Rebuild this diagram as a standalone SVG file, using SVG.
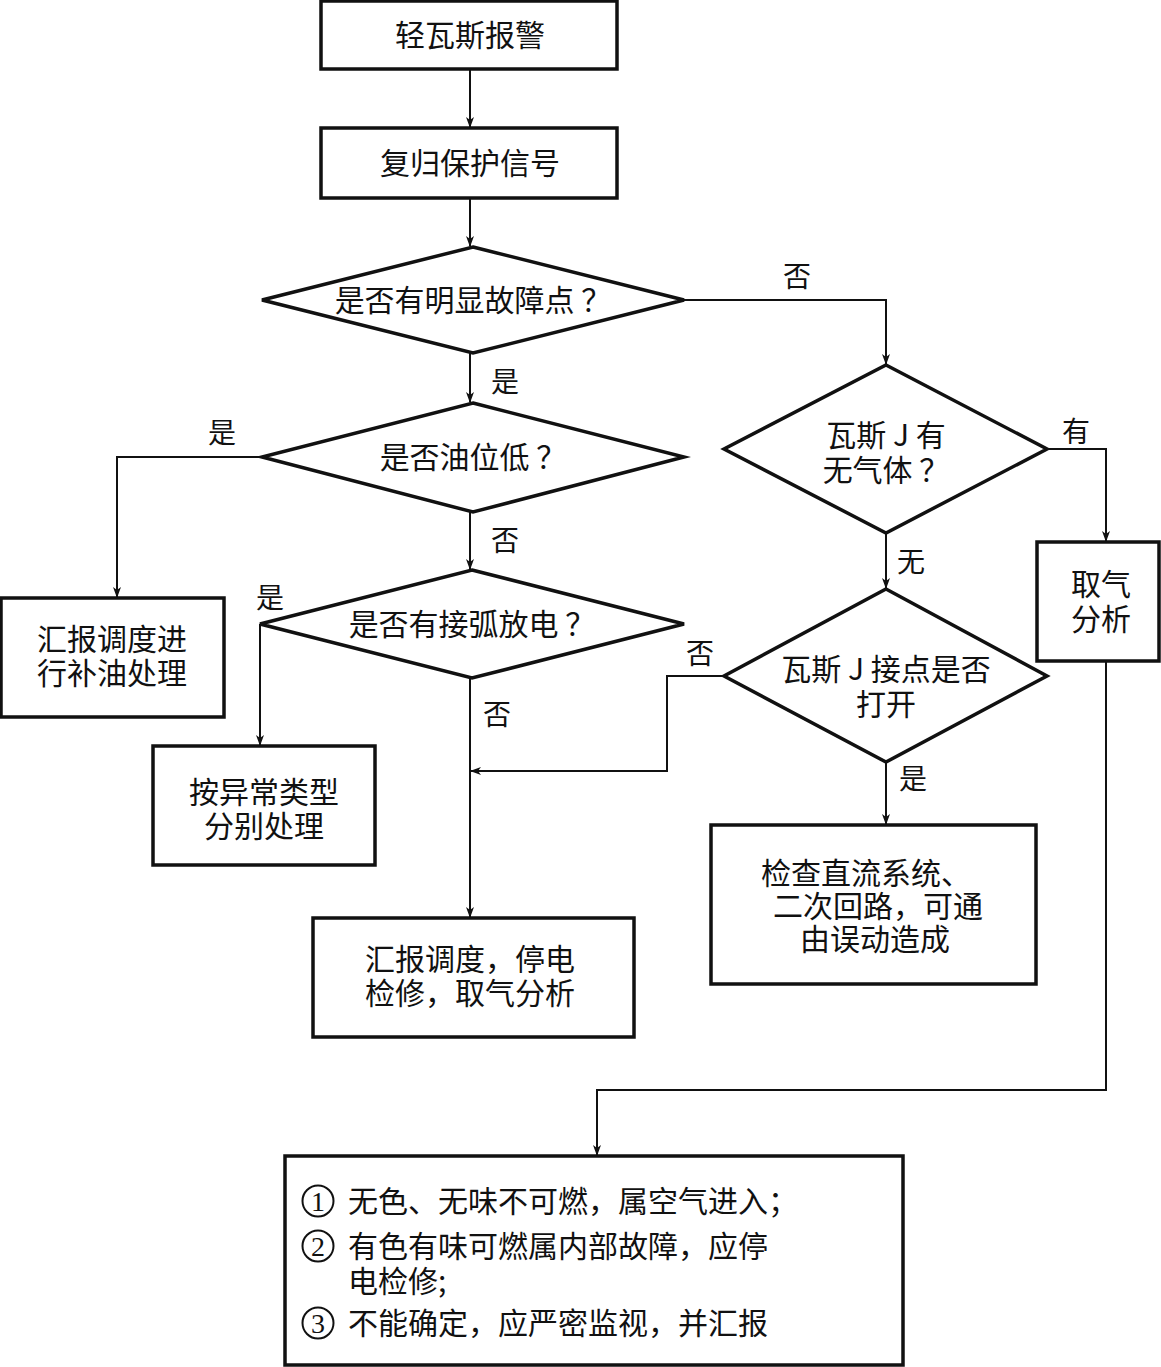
<svg xmlns="http://www.w3.org/2000/svg" width="1161" height="1367" viewBox="0 0 1161 1367">
<defs>
<style>
text{font-family:"Noto Sans CJK SC","Liberation Serif",serif;font-size:30px;fill:#111;}
.c{text-anchor:middle;}
.box{fill:#fff;stroke:#111;stroke-width:3.5;}
.dia{fill:#fff;stroke:#111;stroke-width:3.5;}
.ln{fill:none;stroke:#111;stroke-width:2;}
.lb{font-size:28px;}
.num{fill:none;stroke:#111;stroke-width:2;}
.dg{font-family:"Liberation Serif",serif;font-size:28px;text-anchor:middle;}
</style>
<marker id="ar" markerWidth="12" markerHeight="20" refX="10" refY="5" orient="auto" markerUnits="userSpaceOnUse" viewBox="0 0 12 10">
<path d="M0,1 L11,5 L0,9 L3,5 Z" fill="#111"/>
</marker>
</defs>
<rect width="1161" height="1367" fill="#fff"/>
<g id="connectors">
<line class="ln" x1="470" y1="69" x2="470" y2="127" marker-end="url(#ar)"/>
<line class="ln" x1="470" y1="198" x2="470" y2="246" marker-end="url(#ar)"/>
<polyline class="ln" points="684,300 886,300 886,364" marker-end="url(#ar)"/>
<line class="ln" x1="470" y1="353" x2="470" y2="402" marker-end="url(#ar)"/>
<polyline class="ln" points="262,457 117,457 117,597" marker-end="url(#ar)"/>
<line class="ln" x1="470" y1="512" x2="470" y2="569" marker-end="url(#ar)"/>
<polyline class="ln" points="260,624 260,745" marker-end="url(#ar)"/>
<line class="ln" x1="470" y1="678" x2="470" y2="917" marker-end="url(#ar)"/>
<polyline class="ln" points="1047,449 1106,449 1106,541" marker-end="url(#ar)"/>
<line class="ln" x1="886" y1="533" x2="886" y2="588" marker-end="url(#ar)"/>
<polyline class="ln" points="724,676 667,676 667,771 471,771" marker-end="url(#ar)"/>
<line class="ln" x1="886" y1="762" x2="886" y2="824" marker-end="url(#ar)"/>
<polyline class="ln" points="1106,661 1106,1090 597,1090 597,1155" marker-end="url(#ar)"/>
<text class="lb" x="797" y="287" text-anchor="middle">否</text>
<text class="lb" x="505" y="392" text-anchor="middle">是</text>
<text class="lb" x="222" y="443" text-anchor="middle">是</text>
<text class="lb" x="505" y="551" text-anchor="middle">否</text>
<text class="lb" x="270" y="608" text-anchor="middle">是</text>
<text class="lb" x="497" y="725" text-anchor="middle">否</text>
<text class="lb" x="1076" y="442" text-anchor="middle">有</text>
<text class="lb" x="911" y="572" text-anchor="middle">无</text>
<text class="lb" x="700" y="664" text-anchor="middle">否</text>
<text class="lb" x="913" y="789" text-anchor="middle">是</text>
</g>
<g id="n1"><rect class="box" x="321" y="1" width="296" height="68"/><text class="c" x="470" y="46">轻瓦斯报警</text></g>
<g id="n2"><rect class="box" x="321" y="128" width="296" height="70"/><text class="c" x="470" y="174">复归保护信号</text></g>
<g id="d1"><polygon class="dia" points="473,247 684,300 473,353 262,300"/><text class="c" x="473" y="311">是否有明显故障点 ？</text></g>
<g id="d2"><polygon class="dia" points="473,403 684,457 473,512 262,457"/><text class="c" x="473" y="468">是否油位低 ？</text></g>
<g id="d3"><polygon class="dia" points="472,570 684,624 472,678 260,624"/><text class="c" x="472" y="635">是否有接弧放电 ？</text></g>
<g id="n3"><rect class="box" x="1" y="598" width="223" height="119"/><text class="c" x="112" y="650">汇报调度进<tspan x="112" dy="34">行补油处理</tspan></text></g>
<g id="n4"><rect class="box" x="153" y="746" width="222" height="119"/><text class="c" x="264" y="803">按异常类型<tspan x="264" dy="34">分别处理</tspan></text></g>
<g id="n5"><rect class="box" x="313" y="918" width="321" height="119"/><text class="c" x="470" y="970">汇报调度，停电<tspan x="470" dy="34">检修，取气分析</tspan></text></g>
<g id="d4"><polygon class="dia" points="886,365 1047,449 886,533 724,449"/><text class="c" x="886" y="446">瓦斯 J 有<tspan x="886" dy="35">无气体 ？</tspan></text></g>
<g id="n6"><rect class="box" x="1037" y="542" width="122" height="119"/><text class="c" x="1101" y="595">取气<tspan x="1101" dy="35">分析</tspan></text></g>
<g id="d5"><polygon class="dia" points="886,589 1047,676 886,762 724,676"/><text class="c" x="886" y="680">瓦斯 J 接点是否<tspan x="886" dy="35">打开</tspan></text></g>
<g id="n7"><rect class="box" x="711" y="825" width="325" height="159"/><text class="c" x="866" y="884">检查直流系统、<tspan x="878" dy="33">二次回路，可通</tspan><tspan x="875" dy="33">由误动造成</tspan></text></g>
<g id="n8"><rect class="box" x="285" y="1156" width="618" height="209"/>
<circle class="num" cx="318" cy="1201" r="15.5"/><text class="dg" x="318" y="1211">1</text>
<circle class="num" cx="318" cy="1246" r="15.5"/><text class="dg" x="318" y="1256">2</text>
<circle class="num" cx="318" cy="1323" r="15.5"/><text class="dg" x="318" y="1333">3</text>
<text x="348" y="1212">无色、无味不可燃，属空气进入；<tspan x="348" dy="45">有色有味可燃属内部故障，应停</tspan><tspan x="348" dy="35">电检修;</tspan><tspan x="348" dy="42">不能确定，应严密监视，并汇报</tspan></text>
</g>
</svg>
